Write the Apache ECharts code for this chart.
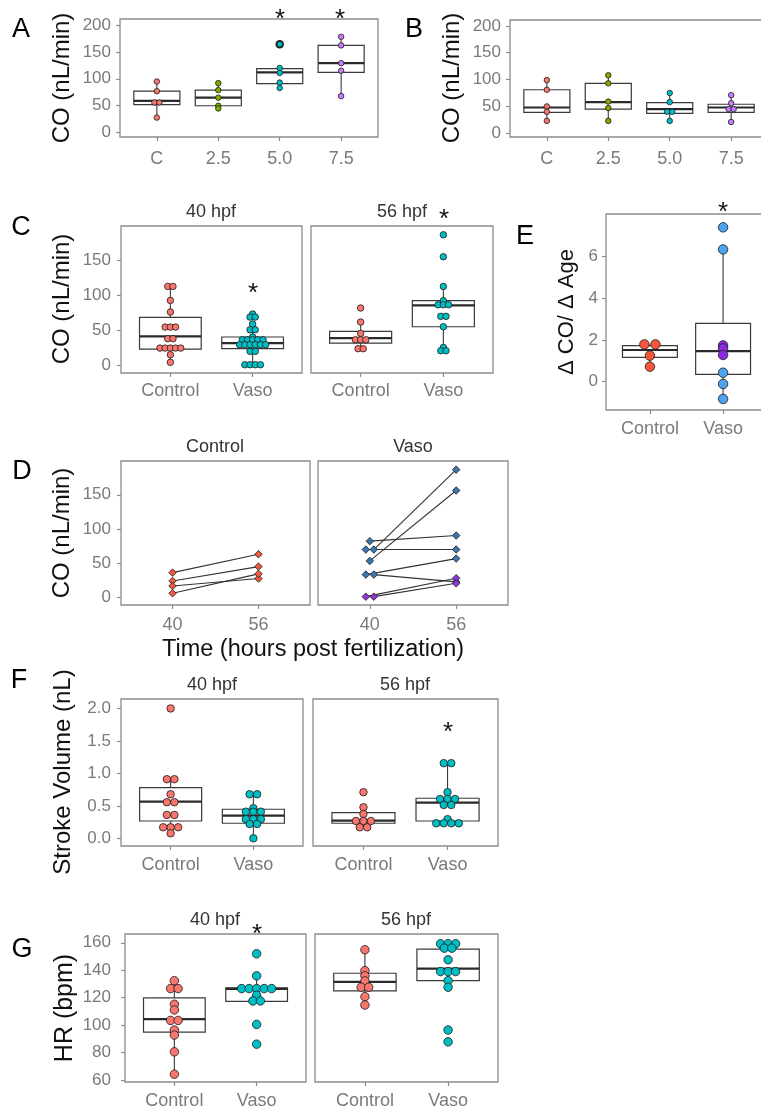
<!DOCTYPE html>
<html><head><meta charset="utf-8">
<script src="https://cdn.jsdelivr.net/npm/echarts@6/dist/echarts.min.js"></script>
<style>html,body{margin:0;padding:0;background:#fff}#c{width:761px;height:1112px}</style>
</head><body><div id="c"></div>
<script>
// ================= DATA =================
const doseCats = ['C', '2.5', '5.0', '7.5'];
const groupCats = ['Control', 'Vaso'];
const timeCats = ['40', '56'];
const ageStrips = ['40 hpf', '56 hpf'];
const groupStrips = ['Control', 'Vaso'];

const ticksCO200 = [0, 50, 100, 150, 200];
const ticksCO150 = [0, 50, 100, 150];
const ticksDelta = [0, 2, 4, 6];
const ticksSV = [0, 0.5, 1.0, 1.5, 2.0];
const ticksHR = [60, 80, 100, 120, 140, 160];

// Panel A: CO by dose (points per dose, box stats [lo,q1,median,q3,hi])
const A_points = [[95, 77, 56, 56, 28], [92, 79, 65, 50, 45], [164, 120, 111, 93, 83], [178, 162, 129, 115, 68]];
const A_boxes = [[28, 52, 59, 77, 95], [45, 50, 65, 79, 92], [83, 91, 112, 119, 120], [68, 112, 129, 162, 178]];
const A_outliers = [[3, 164]];
// Panel B
const B_points = [[99, 81, 50, 40, 23], [108, 93, 59, 47, 23], [75, 58, 40, 40, 23], [71, 56, 45, 45, 21]];
const B_boxes = [[23, 39, 48, 81, 99], [23, 45, 58, 93, 108], [23, 37, 45, 57, 75], [21, 39, 48, 54, 71]];

// Panel C: CO at 40 / 56 hpf
const C40_control = [113.3, 113.3, 93.3, 76.7, 55.2, 55.2, 55.2, 38.6, 38.6, 25.2, 25.2, 25.2, 25.2, 25.2, 15.7, 4.8];
const C40_vaso = [73.8, 69.5, 69.5, 59.5, 51.4, 51.4, 41, 37.1, 37.1, 37.1, 37.1, 37.1, 30, 30, 30, 30, 30, 30, 20.5, 20.5, 1.4, 1.4, 1.4, 1.4];
const C56_control = [82.4, 62.4, 46.2, 37.1, 37.1, 37.1, 24.3, 24.3];
const C56_vaso = [187, 155.7, 113.3, 92.9, 87.1, 87.1, 87.1, 70.5, 70.5, 55.7, 26.2, 21.4, 21.4];
const C40_boxes = [[4.8, 23.8, 41.9, 69, 113.3], [1.4, 24.3, 32.4, 41, 59.5]];
const C56_boxes = [[24.3, 32.4, 39.5, 49, 62.4], [21.4, 55.7, 86.2, 92.9, 113.3]];

// Panel E: delta CO / delta age
const E_control = [1.79, 1.79, 1.25, 0.72];
const E_vaso = [7.41, 6.35, 1.74, 1.60, 1.28, 0.43, -0.11, -0.83];
const E_vasoKind = ['b', 'b', 'p', 'p', 'p', 'b', 'b', 'b'];
const E_boxes = [[0.72, 1.17, 1.52, 1.73, 1.79], [-0.83, 0.35, 1.47, 2.8, 6.35]];

// Panel D: paired CO 40 -> 56 hpf
const D_control40 = [36.1, 23.9, 16.6, 5.9];
const D_control56 = [63, 44.9, 27.4, 34.2];
const D_vaso40 = [82.1, 69.8, 69.8, 53.2, 33.2, 33.2, 0.9, 0.9];
const D_vaso56 = [90.3, 69.8, 186.7, 156.3, 56.6, 22.5, 27.9, 20.5];
const D_vasoKind = ['b', 'b', 'b', 'b', 'b', 'b', 'p', 'p'];

// Panel F: stroke volume
const F40_control = [2.0, 0.914, 0.914, 0.683, 0.56, 0.56, 0.365, 0.365, 0.175, 0.175, 0.175, 0.083];
const F40_vaso = [0.683, 0.683, 0.468, 0.415, 0.415, 0.415, 0.30, 0.30, 0.30, 0.226, 0.226, 0.006];
const F56_control = [0.714, 0.483, 0.38, 0.272, 0.272, 0.272, 0.175, 0.175];
const F56_vaso = [1.16, 1.16, 0.714, 0.61, 0.61, 0.61, 0.518, 0.518, 0.30, 0.237, 0.237, 0.237, 0.237];
const F40_boxes = [[0.083, 0.272, 0.569, 0.785, 0.914], [0.006, 0.237, 0.354, 0.452, 0.683]];
const F56_boxes = [[0.175, 0.237, 0.277, 0.4, 0.483], [0.237, 0.272, 0.554, 0.621, 1.16]];

// Panel G: heart rate
const G40_control = [132.4, 126.6, 126.6, 115.2, 111, 103.4, 103.4, 96.4, 92.7, 80.5, 64.2];
const G40_vaso = [152, 135.9, 126.6, 126.6, 126.6, 126.6, 126.6, 121.7, 117.6, 117.6, 100.5, 86.1];
const G56_control = [154.9, 139.7, 135.9, 132.2, 127.6, 127.6, 120.7, 114.6];
const G56_vaso = [159.3, 159.3, 159.3, 156.1, 156.1, 147.6, 139, 139, 139, 132.4, 127.6, 96.4, 87.8];
const G40_boxes = [[64.2, 94.9, 104.4, 119.8, 132.4], [117.3, 117.3, 126.4, 127.1, 135.9]];
const G56_boxes = [[114.6, 124.9, 131.5, 137.8, 154.9], [127.6, 132.4, 141.2, 155.4, 159.3]];

// ================= STYLE =================
const FONT = '"Liberation Sans", Arial, sans-serif';
const FRAME = '#8c8c8c';
const TICK = '#7a7a7a';
const BOXC = '#3a3a3a';
const doseColors = ['#F8766D', '#7CAE00', '#00BFC4', '#C77CFF'];
const RED = '#F8766D', TEAL = '#00BFC4';
const E_cols = { c: '#F4573A', b: '#4FA3EE', p: '#8A2BE2' };
const D_cols = { c: '#EE5A3B', b: '#3B77AE', p: '#9035DA' };

const option = { animation: false, backgroundColor: '#fff', grid: [], xAxis: [], yAxis: [], series: [], graphic: [] };

function dotLayout(values, center, spacingUnits) {
  const groups = new Map();
  values.forEach((v, i) => { const k = v.toFixed(4); if (!groups.has(k)) groups.set(k, []); groups.get(k).push(i); });
  const out = new Array(values.length);
  groups.forEach(idx => { const k = idx.length; idx.forEach((i, j) => { out[i] = [center + (j - (k - 1) / 2) * spacingUnits, values[i]]; }); });
  return out;
}

function addAxes(p) {
  const gi = option.grid.length;
  option.grid.push({ left: p.left, top: p.top, width: p.width, height: p.height, show: true,
    borderColor: FRAME, borderWidth: 1.3, backgroundColor: 'transparent', outerBoundsMode: 'none', containLabel: false });
  const n = p.xLabels.length;
  const xt = p.xLabels.map((_, i) => i + 1);
  option.xAxis.push({ type: 'value', gridIndex: gi, position: 'bottom', min: 0.4, max: n + 0.6,
    axisLine: { show: false, onZero: false }, splitLine: { show: false },
    axisTick: { show: true, customValues: xt, length: 4, lineStyle: { color: FRAME, width: 1.2 } },
    axisLabel: { customValues: xt, formatter: v => p.xLabels[Math.round(v) - 1], color: TICK,
      fontSize: p.xFont || 18, fontFamily: FONT, margin: p.xMargin || 9 } });
  option.yAxis.push({ type: 'value', gridIndex: gi, position: 'left', min: p.ymin, max: p.ymax,
    axisLine: { show: false, onZero: false }, splitLine: { show: false },
    axisTick: { show: !!p.showY, customValues: p.yTicks, length: 4, lineStyle: { color: FRAME, width: 1.2 } },
    axisLabel: { show: !!p.showY, customValues: p.yTicks, formatter: p.yFmt || (v => String(Math.round(v))), color: TICK,
      fontSize: p.yFont || 17, fontFamily: FONT, margin: p.yMargin || 9 } });
  return { gi, pxPerUnit: p.width / (n - 1 + 1.2) };
}

function renderBox(params, api) {
  const x = api.value(0), lo = api.value(1), q1 = api.value(2), md = api.value(3), q3 = api.value(4), hi = api.value(5);
  const hw = 0.375;
  const tl = api.coord([x - hw, q3]), br = api.coord([x + hw, q1]);
  const m1 = api.coord([x - hw, md]), m2 = api.coord([x + hw, md]);
  const ph = api.coord([x, hi]), pl = api.coord([x, lo]);
  const cx = api.coord([x, md])[0];
  return { type: 'group', children: [
    { type: 'line', shape: { x1: cx, y1: ph[1], x2: cx, y2: tl[1] }, style: { stroke: BOXC, lineWidth: 1.1 } },
    { type: 'line', shape: { x1: cx, y1: br[1], x2: cx, y2: pl[1] }, style: { stroke: BOXC, lineWidth: 1.1 } },
    { type: 'rect', shape: { x: tl[0], y: tl[1], width: br[0] - tl[0], height: br[1] - tl[1] }, style: { fill: '#fff', stroke: BOXC, lineWidth: 1.2 } },
    { type: 'line', shape: { x1: m1[0], y1: m1[1], x2: m2[0], y2: m2[1] }, style: { stroke: '#2a2a2a', lineWidth: 2.2 } }
  ] };
}

function boxPanel(p) {
  const { gi, pxPerUnit } = addAxes(p);
  option.series.push({ type: 'custom', xAxisIndex: gi, yAxisIndex: gi, renderItem: renderBox, silent: true, z: 2,
    encode: { x: 0, y: [1, 2, 3, 4, 5] }, data: p.boxes.map((b, i) => [i + 1].concat(b)) });
  if (p.outliers) {
    option.series.push({ type: 'scatter', xAxisIndex: gi, yAxisIndex: gi, silent: true, z: 3, symbolSize: p.size + 3,
      itemStyle: { color: '#222', opacity: 1 }, data: p.outliers });
  }
  const sp = p.spacing / pxPerUnit;
  p.groups.forEach(g => {
    const pts = dotLayout(g.values, g.cat, sp);
    option.series.push({ type: 'scatter', xAxisIndex: gi, yAxisIndex: gi, silent: true, z: 4, clip: false,
      symbol: 'circle', symbolSize: p.size,
      itemStyle: { borderColor: '#1a1a1a', borderWidth: 0.8, opacity: 1 },
      data: pts.map((pt, i) => ({ value: pt, itemStyle: { color: g.colors ? g.colors[i] : g.color, opacity: 1 } })) });
  });
}

function pairPanel(p) {
  const { gi, pxPerUnit } = addAxes(p);
  const sp = p.spacing / pxPerUnit;
  const a = dotLayout(p.y40, 1, sp), b = dotLayout(p.y56, 2, sp);
  const segs = p.y40.map((v, i) => [a[i][0], a[i][1], b[i][0], b[i][1]]);
  option.series.push({ type: 'custom', xAxisIndex: gi, yAxisIndex: gi, silent: true, z: 2,
    encode: { x: [0, 2], y: [1, 3] }, data: segs,
    renderItem: (params, api) => {
      const s = api.coord([api.value(0), api.value(1)]), e = api.coord([api.value(2), api.value(3)]);
      return { type: 'line', shape: { x1: s[0], y1: s[1], x2: e[0], y2: e[1] }, style: { stroke: '#333', lineWidth: 1.1 } };
    } });
  const pts = [];
  p.y40.forEach((v, i) => { pts.push({ value: a[i], itemStyle: { color: p.colors[i] } }); pts.push({ value: b[i], itemStyle: { color: p.colors[i] } }); });
  option.series.push({ type: 'scatter', xAxisIndex: gi, yAxisIndex: gi, silent: true, z: 4, symbol: 'diamond', symbolSize: 7.5,
    itemStyle: { borderColor: '#1a1a1a', borderWidth: 0.8, opacity: 1 }, data: pts });
}

// ---------- A ----------
boxPanel({ left: 120, top: 19, width: 258, height: 118, ymin: -8, ymax: 211, yTicks: ticksCO200, showY: true,
  xLabels: doseCats, yMargin: 9, xMargin: 13, boxes: A_boxes, outliers: A_outliers, size: 5.5, spacing: 5,
  groups: A_points.map((v, i) => ({ cat: i + 1, values: v, color: doseColors[i] })) });
// ---------- B ----------
boxPanel({ left: 510, top: 20, width: 258, height: 117, ymin: -7, ymax: 211, yTicks: ticksCO200, showY: true,
  xLabels: doseCats, yMargin: 9, xMargin: 13, boxes: B_boxes, size: 5.5, spacing: 5,
  groups: B_points.map((v, i) => ({ cat: i + 1, values: v, color: doseColors[i] })) });
// ---------- C ----------
boxPanel({ left: 121, top: 226, width: 181, height: 147, ymin: -10.4, ymax: 199.6, yTicks: ticksCO150, showY: true,
  xLabels: groupCats, yMargin: 10, xMargin: 9, boxes: C40_boxes, size: 6.5, spacing: 5.2,
  groups: [{ cat: 1, values: C40_control, color: RED }, { cat: 2, values: C40_vaso, color: TEAL }] });
boxPanel({ left: 311, top: 226, width: 182, height: 147, ymin: -10.4, ymax: 199.6, yTicks: ticksCO150, showY: false,
  xLabels: groupCats, xMargin: 9, boxes: C56_boxes, size: 6.5, spacing: 5.2,
  groups: [{ cat: 1, values: C56_control, color: RED }, { cat: 2, values: C56_vaso, color: TEAL }] });
// ---------- E ----------
boxPanel({ left: 606, top: 214, width: 161, height: 196, ymin: -1.36, ymax: 8.05, yTicks: ticksDelta, showY: true,
  xLabels: groupCats, yMargin: 8, xMargin: 10, boxes: E_boxes, size: 9.5, spacing: 11,
  groups: [{ cat: 1, values: E_control, color: E_cols.c }, { cat: 2, values: E_vaso, colors: E_vasoKind.map(k => E_cols[k]) }] });
// ---------- D ----------
pairPanel({ left: 121, top: 461, width: 189, height: 144, ymin: -11.3, ymax: 199.4, yTicks: ticksCO150, showY: true,
  xLabels: timeCats, yMargin: 10, xMargin: 11, spacing: 8, y40: D_control40, y56: D_control56, colors: D_control40.map(() => D_cols.c) });
pairPanel({ left: 318, top: 461, width: 190, height: 144, ymin: -11.3, ymax: 199.4, yTicks: ticksCO150, showY: false,
  xLabels: timeCats, xMargin: 11, spacing: 8, y40: D_vaso40, y56: D_vaso56, colors: D_vasoKind.map(k => D_cols[k]) });
// ---------- F ----------
const svFmt = v => v.toFixed(1);
boxPanel({ left: 121, top: 699, width: 182, height: 147, ymin: -0.112, ymax: 2.145, yTicks: ticksSV, yFmt: svFmt, showY: true,
  xLabels: groupCats, yMargin: 10, xMargin: 10, boxes: F40_boxes, size: 7.5, spacing: 7.5,
  groups: [{ cat: 1, values: F40_control, color: RED }, { cat: 2, values: F40_vaso, color: TEAL }] });
boxPanel({ left: 313, top: 699, width: 185, height: 147, ymin: -0.112, ymax: 2.145, yTicks: ticksSV, yFmt: svFmt, showY: false,
  xLabels: groupCats, xMargin: 10, boxes: F56_boxes, size: 7.5, spacing: 7.5,
  groups: [{ cat: 1, values: F56_control, color: RED }, { cat: 2, values: F56_vaso, color: TEAL }] });
// ---------- G ----------
boxPanel({ left: 125, top: 934, width: 181, height: 148, ymin: 58.5, ymax: 166.4, yTicks: ticksHR, showY: true,
  xLabels: groupCats, yMargin: 14, xMargin: 10, boxes: G40_boxes, size: 8.5, spacing: 7.5,
  groups: [{ cat: 1, values: G40_control, color: RED }, { cat: 2, values: G40_vaso, color: TEAL }] });
boxPanel({ left: 315, top: 934, width: 183, height: 148, ymin: 58.5, ymax: 166.4, yTicks: ticksHR, showY: false,
  xLabels: groupCats, xMargin: 10, boxes: G56_boxes, size: 8.5, spacing: 7.5,
  groups: [{ cat: 1, values: G56_control, color: RED }, { cat: 2, values: G56_vaso, color: TEAL }] });

// ---------- Text annotations ----------
function txt(text, x, y, size, color, rot) {
  option.graphic.push({ type: 'text', x, y, rotation: rot || 0, silent: true, z: 10,
    style: { text, fill: color, fontSize: size, fontFamily: FONT, align: 'center', verticalAlign: 'middle',
      textAlign: 'center', textVerticalAlign: 'middle' } });
}
const R = Math.PI / 2;
// panel letters
txt('A', 21, 30, 27, '#000'); txt('B', 414, 30, 27, '#000'); txt('C', 21, 228, 27, '#000');
txt('E', 525, 237, 27, '#000'); txt('D', 22, 472, 27, '#000'); txt('F', 19, 681, 27, '#000'); txt('G', 22, 950, 27, '#000');
// y-axis titles
txt('CO (nL/min)', 62, 78, 24, '#111', R);
txt('CO (nL/min)', 452, 78, 24, '#111', R);
txt('CO (nL/min)', 62, 299, 24, '#111', R);
txt('\u0394 CO/ \u0394 Age', 567, 312, 22, '#111', R);
txt('CO (nL/min)', 62, 533, 24, '#111', R);
txt('Stroke Volume (nL)', 63, 772, 24, '#111', R);
txt('HR (bpm)', 65, 1008, 25, '#111', R);
txt('Time (hours post fertilization)', 313, 650, 23.5, '#111');
// strip labels
txt(ageStrips[0], 211, 212, 18, '#333'); txt(ageStrips[1], 402, 212, 18, '#333');
txt(groupStrips[0], 215, 447, 18, '#333'); txt(groupStrips[1], 413, 447, 18, '#333');
txt(ageStrips[0], 212, 685, 18, '#333'); txt(ageStrips[1], 405, 685, 18, '#333');
txt(ageStrips[0], 215, 920, 18, '#333'); txt(ageStrips[1], 406, 920, 18, '#333');
// significance asterisks
txt('*', 280, 20, 26, '#111'); txt('*', 340, 20, 26, '#111');
txt('*', 253, 294, 26, '#111'); txt('*', 444, 220, 26, '#111');
txt('*', 723, 213, 26, '#111'); txt('*', 448, 733, 26, '#111'); txt('*', 257, 935, 26, '#111');

const chart = echarts.init(document.getElementById('c'), null, { renderer: 'canvas' });
chart.setOption(option);
</script></body></html>
